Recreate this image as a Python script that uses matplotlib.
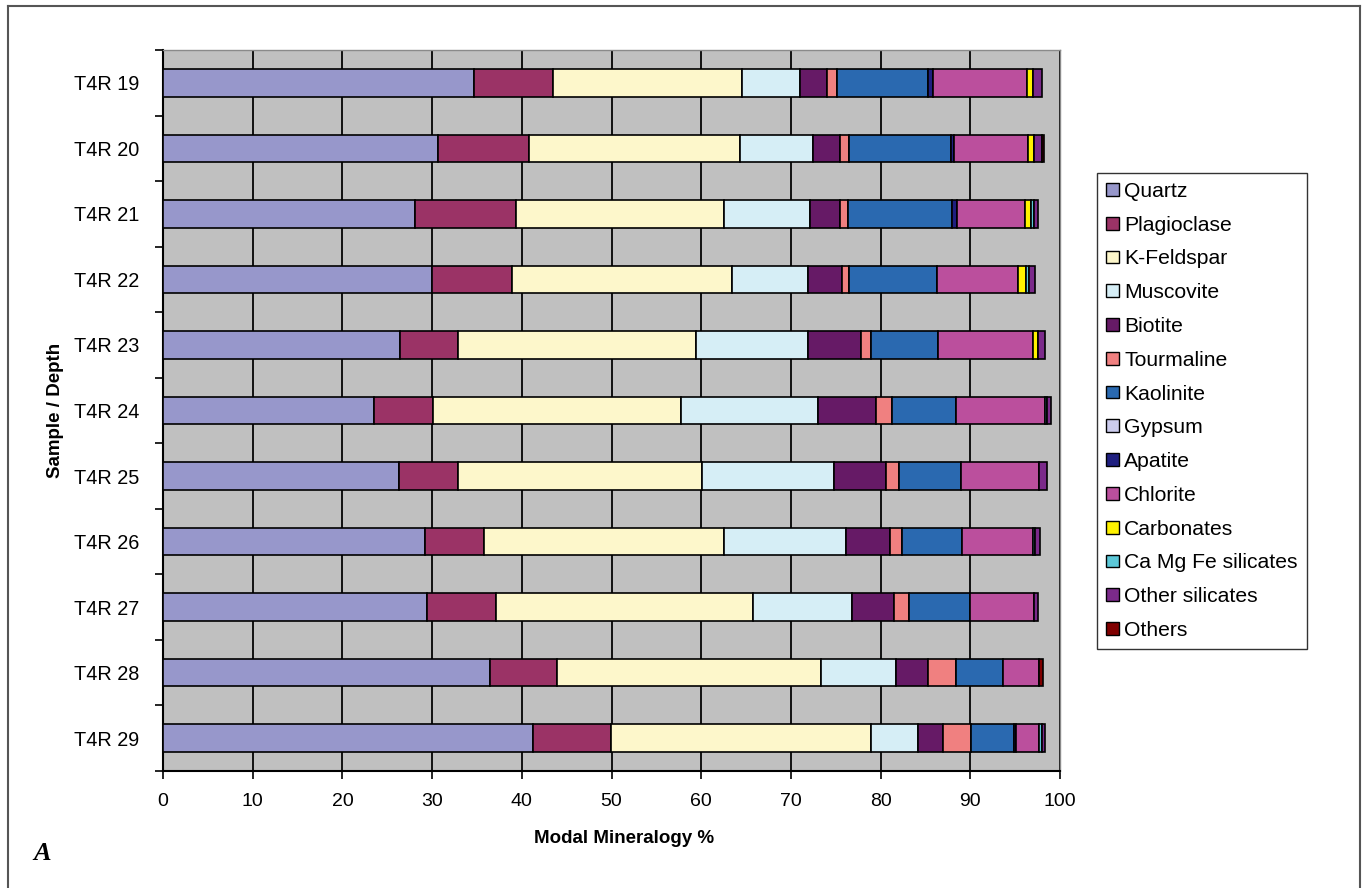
import numpy as np
import matplotlib
matplotlib.use("Agg")
import matplotlib.pyplot as plt
from matplotlib.lines import Line2D

plt.rcParams['font.family'] = ['Liberation Sans', 'DejaVu Sans']

samples = ["T4R 19", "T4R 20", "T4R 21", "T4R 22", "T4R 23", "T4R 24",
           "T4R 25", "T4R 26", "T4R 27", "T4R 28", "T4R 29"]

minerals = ["Quartz", "Plagioclase", "K-Feldspar", "Muscovite", "Biotite",
            "Tourmaline", "Kaolinite", "Gypsum", "Apatite", "Chlorite",
            "Carbonates", "Ca Mg Fe silicates", "Other silicates", "Others"]

# modal abundance (%) per sample, one list per mineral
quartz      = [34.7, 30.7, 28.1, 30.0, 26.4, 23.5, 26.3, 29.2, 29.4, 36.5, 41.3]
plagioclase = [8.8, 10.1, 11.2, 8.9, 6.5, 6.6, 6.6, 6.6, 7.7, 7.4, 8.6]
k_feldspar  = [21.0, 23.5, 23.2, 24.5, 26.5, 27.6, 27.2, 26.7, 28.7, 29.5, 29.0]
muscovite   = [6.5, 8.2, 9.6, 8.5, 12.5, 15.3, 14.7, 13.6, 11.0, 8.3, 5.3]
biotite     = [3.0, 3.0, 3.4, 3.8, 5.9, 6.5, 5.8, 5.0, 4.7, 3.6, 2.8]
tourmaline  = [1.1, 1.0, 0.9, 0.8, 1.1, 1.8, 1.4, 1.3, 1.7, 3.1, 3.1]
kaolinite   = [10.2, 11.4, 11.6, 9.8, 7.5, 7.1, 7.0, 6.7, 6.8, 5.2, 4.8]
gypsum      = [0, 0, 0, 0, 0, 0, 0, 0, 0, 0, 0]
apatite     = [0.5, 0.3, 0.5, 0, 0, 0, 0, 0, 0, 0, 0.2]
chlorite    = [10.5, 8.2, 7.6, 9.0, 10.6, 9.9, 8.7, 7.9, 7.1, 4.1, 2.6]
carbonates  = [0.7, 0.7, 0.7, 0.9, 0.5, 0, 0, 0, 0, 0, 0]
ca_mg_fe    = [0, 0, 0.25, 0.3, 0, 0.25, 0, 0.25, 0, 0, 0.25]
other_sil   = [1.0, 0.9, 0.5, 0.7, 0.8, 0.4, 0.8, 0.5, 0.5, 0, 0.4]
others      = [0, 0.2, 0, 0, 0, 0, 0, 0, 0, 0.4, 0]

series = [quartz, plagioclase, k_feldspar, muscovite, biotite, tourmaline,
          kaolinite, gypsum, apatite, chlorite, carbonates, ca_mg_fe,
          other_sil, others]

colors = ["#9797CB", "#9B3366", "#FDF7CB", "#D6EEF6", "#661A66", "#F08080",
          "#2A69B0", "#CCCCEE", "#1F1F80", "#BB4F9D", "#FFF200", "#5CC8D8",
          "#7B2A8A", "#800000"]

W, H = 1362, 888
fig = plt.figure(figsize=(W / 100, H / 100), dpi=100)
fig.patch.set_facecolor("white")

ax = fig.add_axes([163 / W, 1 - 771 / H, 897 / W, 721 / H])
ax.set_facecolor("#C0C0C0")

y = np.arange(len(samples))
left = np.zeros(len(samples))
handles = []
for name, vals, col in zip(minerals, series, colors):
    vals = np.array(vals, dtype=float)
    edges = ["black" if v > 0 else "none" for v in vals]
    ax.barh(y, vals, left=left, height=0.42, color=col,
            edgecolor=edges, linewidth=1.2, label=name, zorder=3)
    handles.append(plt.Rectangle((0, 0), 1, 1, facecolor=col,
                                 edgecolor="black", linewidth=1.0))
    left += vals

ax.set_xlim(0, 100)
ax.set_ylim(len(samples) - 0.5, -0.5)

# vertical gridlines
ax.set_xticks(np.arange(0, 101, 10))
ax.xaxis.grid(True, color="#111111", linewidth=1.4, zorder=1)
ax.set_axisbelow(True)

ax.set_yticks(y)
ax.set_yticklabels(samples)
ax.set_yticks(np.arange(-0.5, len(samples) + 0.5, 1), minor=True)
ax.tick_params(axis="y", which="major", length=0, pad=17, labelsize=14.3)
ax.tick_params(axis="y", which="minor", length=6, width=1.2, color="black",
               direction="out")
ax.tick_params(axis="x", which="major", length=6, width=1.2, color="black",
               direction="out", pad=10, labelsize=14)

for side in ("left", "bottom"):
    ax.spines[side].set_color("black")
    ax.spines[side].set_linewidth(1.5)
for side in ("top", "right"):
    ax.spines[side].set_color("#8A8A8A")
    ax.spines[side].set_linewidth(1.0)

ax.set_xlabel("Modal Mineralogy %", fontsize=13.5, fontweight="bold")
ax.xaxis.set_label_coords(0.514, -0.093)
ax.xaxis.label.set_va("center")
ax.set_ylabel("Sample / Depth", fontsize=13.5, fontweight="bold")
ax.yaxis.set_label_coords(-0.12, 0.5)
ax.yaxis.label.set_va("center")

leg = fig.legend(handles, minerals, loc="upper left",
                 bbox_to_anchor=(1097 / W, 1 - 173 / H),
                 bbox_transform=fig.transFigure, borderaxespad=0,
                 fontsize=15.2, frameon=True, fancybox=False, shadow=False,
                 handlelength=0.62, handleheight=0.55, handletextpad=0.25,
                 labelspacing=0.70, borderpad=0.42)
leg.get_frame().set_edgecolor("black")
leg.get_frame().set_linewidth(1.0)

# panel letter
fig.text(42 / W, 1 - 853 / H, "A", fontsize=19, fontweight="bold",
         fontstyle="italic", family=["Liberation Serif", "DejaVu Serif"],
         ha="center", va="center")

# outer frame (open at the bottom)
frame_kw = dict(color="#555555", linewidth=1.5, transform=fig.transFigure)
fig.add_artist(Line2D([8 / W, 8 / W], [0, 1 - 6 / H], **frame_kw))
fig.add_artist(Line2D([8 / W, 1359.5 / W], [1 - 6 / H, 1 - 6 / H], **frame_kw))
fig.add_artist(Line2D([1359.5 / W, 1359.5 / W], [0, 1 - 6 / H], **frame_kw))

fig.savefig("out.png", dpi=100, facecolor="white")
